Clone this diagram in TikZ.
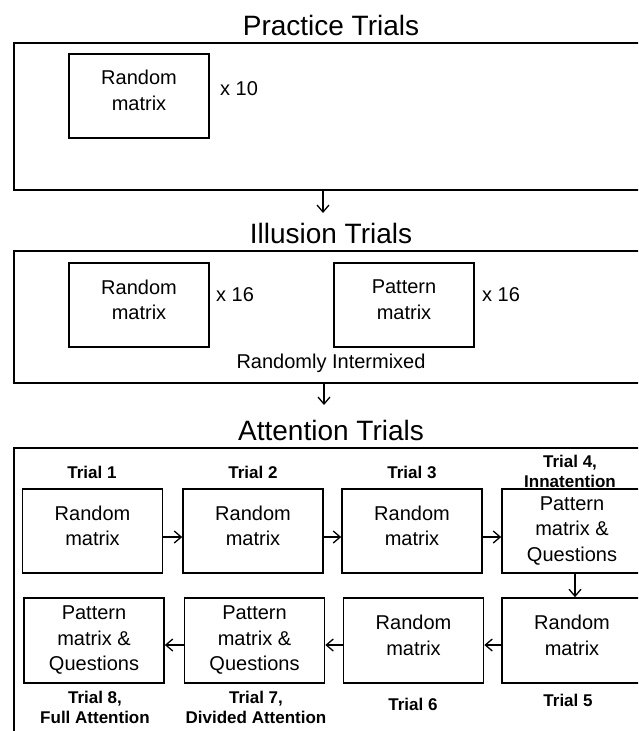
\documentclass[tikz,border=0pt]{standalone}
\usepackage{fontspec}
\setmainfont{Liberation Sans}
\usetikzlibrary{arrows.meta}

\begin{document}
\begin{tikzpicture}[x=1pt,y=-1pt,
	stage/.style={draw,line width=2.8pt,minimum width=646pt,inner sep=0pt},
	box/.style={draw,line width=1.6pt,minimum width=140pt,minimum height=84pt,inner sep=0pt,align=center,font=\fontsize{20}{25.5}\selectfont},
	lift/.style={execute at end node={\rule[-11pt]{0pt}{11pt}}},
	heading/.style={font=\fontsize{28}{30}\selectfont},
	times/.style={anchor=west,inner sep=0pt,font=\fontsize{20}{24}\selectfont},
	trial/.style={align=center,inner sep=0pt,font=\bfseries\fontsize{17}{20}\selectfont},
	flow/.style={->,line width=1.3pt,>={Straight Barb[length=7pt,width=12pt]}}]
	\useasboundingbox (0,0) rectangle (638,731);
	\clip (0,0) rectangle (638,731);

	% practice trials
	\node[heading] (ptitle) at (331,25) {Practice Trials};
	\node[stage,minimum height=147pt] (practice) at (337,116.5) {};
	\node[box,lift] (prand) at (139,96) {Random\\matrix};
	\node[times] (px) at (220,89) {x 10};

	% illusion trials
	\coordinate (a1) at (323,213);
	\draw[flow] (practice.south -| a1) -- (a1);
	\node[heading] (ititle) at (331,233) {Illusion Trials};
	\node[stage,minimum height=132pt] (illusion) at (337,317) {};
	\node[box,lift] (irand) at (139,305) {Random\\matrix};
	\node[times] (ix1) at (216,295) {x 16};
	\node[box,lift] (ipat) at (404,305) {Pattern\\matrix};
	\node[times] (ix2) at (482,295) {x 16};
	\node[times,anchor=center] (mixed) at (331,363) {Randomly Intermixed};

	% attention trials
	\coordinate (a2) at (324,405);
	\draw[flow] (illusion.south -| a2) -- (a2);
	\node[heading] (atitle) at (331,430) {Attention Trials};
	\node[stage,minimum height=312pt] (attention) at (337,604) {};

	\node[box,lift] (t1) at (92.5,531) {Random\\matrix};
	\node[box,lift] (t2) at (253,531) {Random\\matrix};
	\node[box,lift] (t3) at (412,531) {Random\\matrix};
	\node[box] (t4) at (572,531) {Pattern\\matrix \&\\Questions};
	\node[box,lift,minimum height=85pt] (t5) at (572,640.5) {Random\\matrix};
	\node[box,lift,minimum height=85pt] (t6) at (413.5,640.5) {Random\\matrix};
	\node[box,minimum height=85pt] (t7) at (254.5,640.5) {Pattern\\matrix \&\\Questions};
	\node[box,minimum height=85pt] (t8) at (94,640.5) {Pattern\\matrix \&\\Questions};

	\node[trial] (l1) at (92,472) {Trial 1};
	\node[trial] (l2) at (253,472) {Trial 2};
	\node[trial] (l3) at (412,472) {Trial 3};
	\node[trial] (l4) at (570,471) {Trial 4,\\Innatention};
	\node[trial] (l5) at (568,700) {Trial 5};
	\node[trial] (l6) at (413,704) {Trial 6};
	\node[trial] (l7) at (256,707) {Trial 7,\\Divided Attention};
	\node[trial] (l8) at (95,707) {Trial 8,\\Full Attention};

	\draw[flow] ([yshift=-6pt]t1.east) -- ([yshift=-6pt]t2.west);
	\draw[flow] ([yshift=-6pt]t2.east) -- ([yshift=-6pt]t3.west);
	\draw[flow] ([yshift=-6pt]t3.east) -- ([yshift=-6pt]t4.west);
	\draw[flow] ([xshift=3pt]t4.south) -- ([xshift=3pt]t5.north);
	\draw[flow] ([yshift=-4.5pt]t5.west) -- ([yshift=-4.5pt]t6.east);
	\draw[flow] ([yshift=-4.5pt]t6.west) -- ([yshift=-4.5pt]t7.east);
	\draw[flow] ([yshift=-4.5pt]t7.west) -- ([yshift=-4.5pt]t8.east);
\end{tikzpicture}
\end{document}
